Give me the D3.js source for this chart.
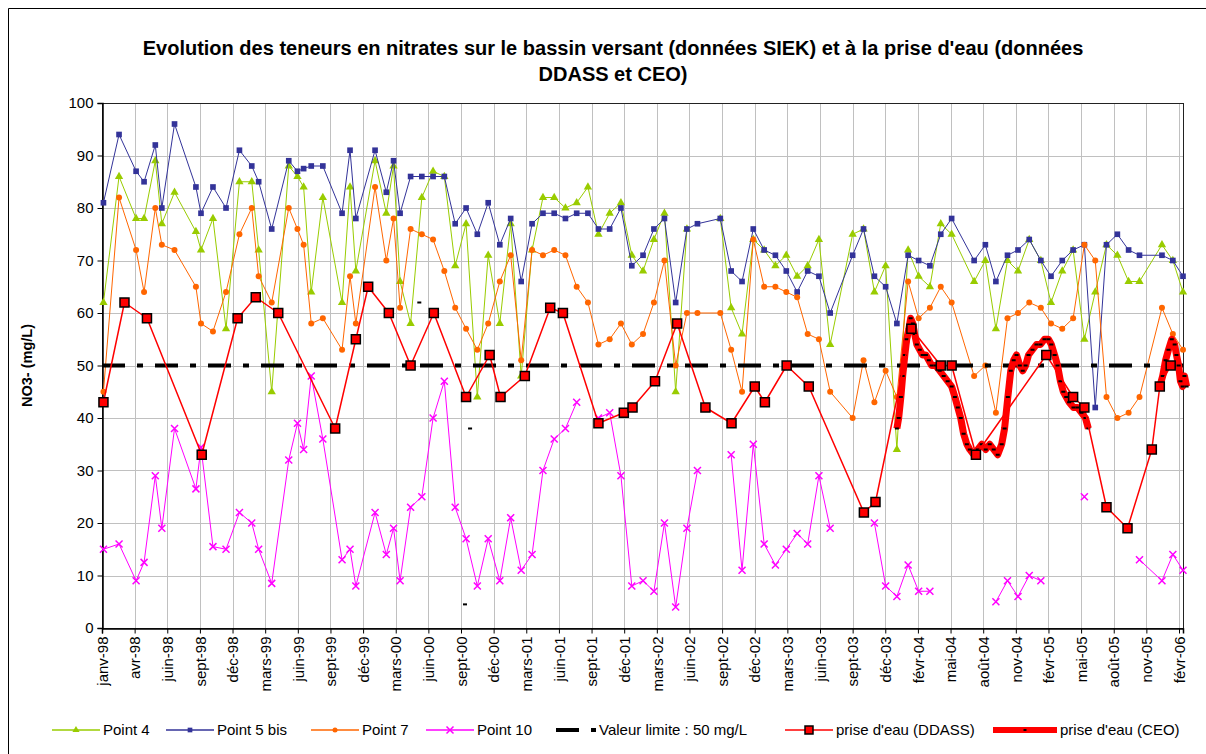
<!DOCTYPE html>
<html><head><meta charset="utf-8">
<script src="https://cdnjs.cloudflare.com/ajax/libs/d3/7.8.5/d3.min.js"></script>
<style>
body{margin:0;background:#fff}
text{font-family:"Liberation Sans",Arial,sans-serif;fill:#000}
</style></head><body>
<svg id="c" width="1206" height="754"></svg>
<script>
// ---------- DATA ----------
const titleLines = ["Evolution des teneurs en nitrates sur le bassin versant (données SIEK) et à la prise d'eau (données", "DDASS et CEO)"];
const yAxisTitle = "NO3- (mg/L)";
const yTicks = [0,10,20,30,40,50,60,70,80,90,100];
const xTickLabels = ["janv-98","avr-98","juin-98","sept-98","déc-98","mars-99","juin-99","sept-99","déc-99","mars-00","juin-00","sept-00","déc-00","mars-01","juin-01","sept-01","déc-01","mars-02","juin-02","sept-02","déc-02","mars-03","juin-03","sept-03","déc-03","févr-04","mai-04","août-04","nov-04","févr-05","mai-05","août-05","nov-05","févr-06"];
const xTickStepDays = 90;
const xStart = "1998-01-01", xEnd = "2006-03-01";

const siekDates = ["1998-01-05","1998-02-17","1998-04-05","1998-04-27","1998-05-28","1998-06-15","1998-07-20","1998-09-17","1998-10-01","1998-11-03","1998-12-09",
"1999-01-15","1999-02-18","1999-03-09","1999-04-14","1999-05-31","1999-06-24","1999-07-11","1999-08-01","1999-09-02","1999-10-25","1999-11-16","1999-12-02",
"2000-01-24","2000-02-24","2000-03-15","2000-04-02","2000-05-01","2000-06-01","2000-07-02","2000-08-02","2000-09-01","2000-10-01","2000-11-01","2000-12-01",
"2001-01-02","2001-02-01","2001-03-02","2001-04-01","2001-05-01","2001-06-01","2001-07-02","2001-08-02","2001-09-02","2001-10-01","2001-11-01","2001-12-02",
"2002-01-01","2002-02-01","2002-03-03","2002-04-01","2002-05-02","2002-06-02","2002-07-01","2002-09-02","2002-10-02","2002-11-01","2002-12-02",
"2003-01-01","2003-02-01","2003-03-03","2003-04-02","2003-05-01","2003-06-01","2003-07-02","2003-09-02","2003-10-02","2003-11-01","2003-12-02",
"2004-01-02","2004-02-02","2004-03-02","2004-04-02","2004-05-02","2004-06-01","2004-08-02","2004-09-02","2004-10-01","2004-11-02","2004-12-01",
"2005-01-01","2005-02-02","2005-03-02","2005-04-02","2005-05-02","2005-06-02","2005-07-02","2005-08-02","2005-09-01","2005-10-02","2005-11-01",
"2006-01-02","2006-02-01","2006-03-01"];

const point4 = [62,86,78,78,89,77,83,75.5,72,78,57,
85,85,72,45,88,86,84,64,82,62,84,68,
89,79,88,66,58,82,87,86,69,77,44,71,
58,77,48,72,82,82,80,81,84,75,79,81,
71,68,74,79,45,76,null,78,61,56,74,
72,69,71,67,69,74,54,75,76,64,69,
34,72,67,65,77,75,66,70,57,70,68,
74,70,62,68,72,55,64,73,71,66,66,
73,70,64];

const point5bis = [81,94,87,85,92,80,96,84,79,84,80,
91,88,85,76,89,87,87.5,88,88,79,91,78,
91,83,89,79,86,86,86,86,77,80,75,81,
73,78,66,77,79,79,78,79,79,76,76,80,
69,71,76,78,62,76,77,78,68,66,76,
72,71,68,64,68,67,60,71,76,67,65,
58,71,70,69,75,78,70,73,66,71,72,
74,70,67,70,72,73,42,73,75,72,71,
71,70,67];

const point7 = [45,82,72,64,80,73,72,65,58,56.5,64,
75,80,67,62,80,76,73,58,59,53,67,58,
84,70,78,61,76,75,74,68,61,57,53,58,
66,71,51,72,71,72,71,65,62,54,55,58,
54,56,62,70,50,60,60,60,53,45,74,
65,65,64,63,56,55,45,40,51,43,49,
44,66,59,61,65,62,48,50,41,59,60,
62,61,58,57,59,73,70,44,40,41,44,
61,56,53];

const point10 = [15,16,9,12.5,29,19,38,26.5,34.4,15.5,15,
22,20,15,8.5,32,39,34,48,36,13,15,8,
22,14,19,9,23,25,40,47,23,17,8,17,
9,21,11,14,30,36,38,43,null,40,41,29,
8,9,7,20,4,19,30,null,33,11,35,
16,12,15,18,16,29,19,null,null,20,8,
6,12,7,7,null,null,null,null,5,9,6,
10,9,null,null,null,25,null,null,null,null,13,
9,14,11];

const limitDates = ["1998-01-01","2006-03-01"];
const limitValues = [50,50];

const ddassDates = ["1998-01-05","1998-03-04","1998-05-05","1998-10-03","1999-01-10","1999-03-01","1999-05-02","1999-10-06","1999-12-02",
"2000-01-05","2000-03-02","2000-05-01","2000-07-04","2000-10-01","2000-12-05","2001-01-04","2001-03-12","2001-05-21","2001-06-25","2001-10-01","2001-12-10",
"2002-01-03","2002-03-06","2002-05-06","2002-07-23","2002-10-03","2002-12-06","2003-01-03","2003-03-04","2003-05-04","2003-10-03","2003-11-04",
"2004-02-11","2004-05-02","2004-06-01","2004-08-07","2005-02-17","2005-05-02","2005-06-02","2005-08-02","2005-09-29","2005-12-05","2005-12-27","2006-01-26"];
const ddassValues = [43,62,59,33,59,63,60,38,55,
65,60,50,60,44,52,44,48,61,60,39,41,
42,47,58,42,39,46,43,50,46,22,24,
57,50,50,33,52,44,42,23,19,34,46,50];

const ceoDates = ["2000-05-25",null,"2000-09-28",null,"2000-10-12",null,
"2004-01-02","2004-01-07","2004-01-13","2004-01-18","2004-01-24","2004-01-29","2004-02-04","2004-02-09","2004-02-15","2004-02-20","2004-02-26",
"2004-03-05","2004-03-13","2004-03-22","2004-03-30","2004-04-07","2004-04-18","2004-04-29","2004-05-10","2004-05-21","2004-06-01","2004-06-10",
"2004-06-18","2004-06-26","2004-07-04","2004-07-13","2004-07-21","2004-08-01","2004-08-12","2004-08-23","2004-09-03","2004-09-14","2004-09-25",
"2004-10-06","2004-10-17","2004-10-25","2004-11-03","2004-11-11","2004-11-19","2004-11-27","2004-12-06","2004-12-14","2004-12-22","2004-12-30",
"2005-01-10","2005-01-21","2005-02-01","2005-02-12","2005-02-23","2005-03-03","2005-03-12","2005-03-20","2005-03-28","2005-04-05","2005-04-13",
"2005-04-21","2005-05-03","2005-05-14","2005-05-25","2005-06-05","2005-06-13",null,
"2005-12-27","2006-01-04","2006-01-12","2006-01-20","2006-01-29","2006-02-06","2006-02-11","2006-02-17","2006-02-22","2006-02-28","2006-03-05","2006-03-11"];
const ceoValues = [62,null,4.5,null,38,null,
38,40,44,48,52,55,57,59,58,56,54,
53,52,52,51,50,50,49,48,47,46,44,
42,40,37,35,34,33,34,35,34,35,34,
33,35,38,44,49,51,52,50,49,50,52,
53,54,54,55,55,54,52,50,47,45,44,
43,42,42,41,40,38,null,
46,48,51,53,55,54,52,50,47,46,48,46];

// ---------- CHART ----------
const parse = d3.utcParse("%Y-%m-%d");
const svg = d3.select("#c");
const L = 102, R = 1183, T = 103, B = 628;
const x = d3.scaleUtc().domain([parse(xStart), parse(xEnd)]).range([L, R]);
const y = d3.scaleLinear().domain([0, 100]).range([B, T]);
const xTickDates = xTickLabels.map((_, i) => d3.utcDay.offset(parse(xStart), i * xTickStepDays));

// outer border
svg.append("path").attr("d", "M8.5,760V8.5H1215").attr("fill", "none").attr("stroke", "#000").attr("stroke-width", 1);

// title
svg.append("g").selectAll("text").data(titleLines).join("text")
  .attr("x", 613).attr("y", (d, i) => 55 + i * 26)
  .attr("text-anchor", "middle").attr("font-weight", "bold").attr("font-size", 20)
  .text(d => d);

// grid
const grid = svg.append("g");
grid.selectAll("line.h").data(yTicks.slice(1)).join("line")
  .attr("x1", L).attr("x2", R).attr("y1", d => Math.round(y(d)) + 0.5).attr("y2", d => Math.round(y(d)) + 0.5)
  .attr("stroke", "#c0c0c0").attr("stroke-width", 1);
grid.selectAll("line.v").data(xTickDates.slice(1)).join("line")
  .attr("y1", T).attr("y2", B).attr("x1", d => Math.round(x(d)) + 0.5).attr("x2", d => Math.round(x(d)) + 0.5)
  .attr("stroke", "#c0c0c0").attr("stroke-width", 1);
svg.append("rect").attr("x", L + 0.5).attr("y", T + 0.5).attr("width", R - L).attr("height", B - T)
  .attr("fill", "none").attr("stroke", "#222").attr("stroke-width", 1);

// axes
const yAxis = svg.append("g").attr("transform", `translate(${L + 0.5},0)`)
  .call(d3.axisLeft(y).tickValues(yTicks).tickSize(5).tickPadding(4).tickFormat(d3.format("d")));
const xAxis = svg.append("g").attr("transform", `translate(0,${B + 0.5})`)
  .call(d3.axisBottom(x).tickValues(xTickDates).tickSize(5).tickFormat((d, i) => xTickLabels[i]));
[yAxis, xAxis].forEach(a => {
  a.select(".domain").attr("stroke", "#000").attr("stroke-width", 1.5);
  a.selectAll(".tick line").attr("stroke", "#000");
  a.selectAll("text").attr("font-size", 15).attr("font-family", "Liberation Sans, Arial, sans-serif");
});
xAxis.selectAll(".tick text").attr("transform", "rotate(-90)").attr("x", -8).attr("y", 0).attr("dy", "0.35em").attr("text-anchor", "end");

svg.append("text").attr("transform", `translate(32,${(T + B) / 2}) rotate(-90)`)
  .attr("text-anchor", "middle").attr("font-weight", "bold").attr("font-size", 14.5).text(yAxisTitle);

// helpers
const rows = (dates, vals) => dates.map((d, i) => ({ d: d ? parse(d) : null, v: vals[i] }));
const line = d3.line().defined(p => p.v != null && p.d != null).x(p => x(p.d)).y(p => y(p.v));
const plot = svg.append("g");

function series(data, color, width, marker) {
  const g = plot.append("g");
  g.append("path").attr("d", line(data)).attr("fill", "none").attr("stroke", color).attr("stroke-width", width).attr("stroke-linejoin", "round");
  const pts = data.filter(p => p.v != null && p.d != null);
  marker(g, pts);
}
const sym = (type, size, color) => (g, pts) => g.selectAll("path.m").data(pts).join("path")
  .attr("transform", p => `translate(${x(p.d)},${y(p.v)})`).attr("d", d3.symbol(type, size)).attr("fill", color);

series(rows(siekDates, point4), "#99cc00", 1, sym(d3.symbolTriangle, 30, "#99cc00"));
series(rows(siekDates, point5bis), "#333399", 1, sym(d3.symbolSquare, 32, "#333399"));
series(rows(siekDates, point7), "#ff6600", 1, (g, pts) => g.selectAll("circle").data(pts).join("circle")
  .attr("cx", p => x(p.d)).attr("cy", p => y(p.v)).attr("r", 3).attr("fill", "#ff6600"));
series(rows(siekDates, point10), "#ff00ff", 1, (g, pts) => g.selectAll("path.m").data(pts).join("path")
  .attr("transform", p => `translate(${x(p.d)},${y(p.v)})`).attr("d", "M-3.5,-3.5L3.5,3.5M-3.5,3.5L3.5,-3.5")
  .attr("stroke", "#ff00ff").attr("stroke-width", 1.5).attr("fill", "none"));

// limit
plot.append("path").attr("d", line(rows(limitDates, limitValues))).attr("fill", "none")
  .attr("stroke", "#000").attr("stroke-width", 4).attr("stroke-dasharray", "23,12,6,12");

// CEO
const ceo = rows(ceoDates, ceoValues);
series(ceo, "#ff0000", 7, (g, pts) => g.selectAll("rect").data(pts).join("rect")
  .attr("x", p => x(p.d) - 2).attr("y", p => y(p.v) - 1).attr("width", 4).attr("height", 2).attr("fill", "#000"));

// DDASS
series(rows(ddassDates, ddassValues), "#ff0000", 1.5, (g, pts) => g.selectAll("rect").data(pts).join("rect")
  .attr("x", p => x(p.d) - 4.5).attr("y", p => y(p.v) - 4.5).attr("width", 9).attr("height", 9)
  .attr("fill", "#ff0000").attr("stroke", "#000").attr("stroke-width", 1.5));

// legend
const legendItems = [
  { label: "Point 4", x: 52, kind: "p4" },
  { label: "Point 5 bis", x: 166, kind: "p5" },
  { label: "Point 7", x: 311, kind: "p7" },
  { label: "Point 10", x: 426, kind: "p10" },
  { label: "Valeur limite : 50 mg/L", x: 556, kind: "lim" },
  { label: "prise d'eau (DDASS)", x: 785, kind: "ddass" },
  { label: "prise d'eau (CEO)", x: 993, kind: "ceo" }
];
const ly = 730;
const lg = svg.append("g");
legendItems.forEach(it => {
  const g = lg.append("g").attr("transform", `translate(${it.x},${ly})`);
  const w = it.kind === "lim" ? 40 : (it.kind === "ceo" ? 64 : 48);
  if (it.kind === "p4") { g.append("line").attr("x2", w).attr("stroke", "#99cc00").attr("stroke-width", 1.5);
    g.append("path").attr("transform", `translate(${w/2},0)`).attr("d", d3.symbol(d3.symbolTriangle, 22)).attr("fill", "#99cc00"); }
  if (it.kind === "p5") { g.append("line").attr("x2", w).attr("stroke", "#333399").attr("stroke-width", 1.5);
    g.append("path").attr("transform", `translate(${w/2},0)`).attr("d", d3.symbol(d3.symbolSquare, 22)).attr("fill", "#333399"); }
  if (it.kind === "p7") { g.append("line").attr("x2", w).attr("stroke", "#ff6600").attr("stroke-width", 1.5);
    g.append("circle").attr("cx", w/2).attr("r", 2.5).attr("fill", "#ff6600"); }
  if (it.kind === "p10") { g.append("line").attr("x2", w).attr("stroke", "#ff00ff").attr("stroke-width", 1.5);
    g.append("path").attr("transform", `translate(${w/2},0)`).attr("d", "M-3.5,-3.5L3.5,3.5M-3.5,3.5L3.5,-3.5").attr("stroke", "#ff00ff").attr("stroke-width", 1.5); }
  if (it.kind === "lim") { g.append("line").attr("x2", w).attr("stroke", "#000").attr("stroke-width", 4).attr("stroke-dasharray", "23,12,6,12"); }
  if (it.kind === "ddass") { g.append("line").attr("x2", w).attr("stroke", "#ff0000").attr("stroke-width", 1.5);
    g.append("rect").attr("x", w/2 - 4).attr("y", -4).attr("width", 8).attr("height", 8).attr("fill", "#ff0000").attr("stroke", "#000").attr("stroke-width", 1.5); }
  if (it.kind === "ceo") { g.append("line").attr("x2", w).attr("stroke", "#ff0000").attr("stroke-width", 6);
    g.append("rect").attr("x", w/2 - 1.5).attr("y", -1).attr("width", 3).attr("height", 2).attr("fill", "#000"); }
  g.append("text").attr("x", w + 3).attr("y", 0).attr("dy", "0.35em").attr("font-size", 15).text(it.label);
});
</script></body></html>
